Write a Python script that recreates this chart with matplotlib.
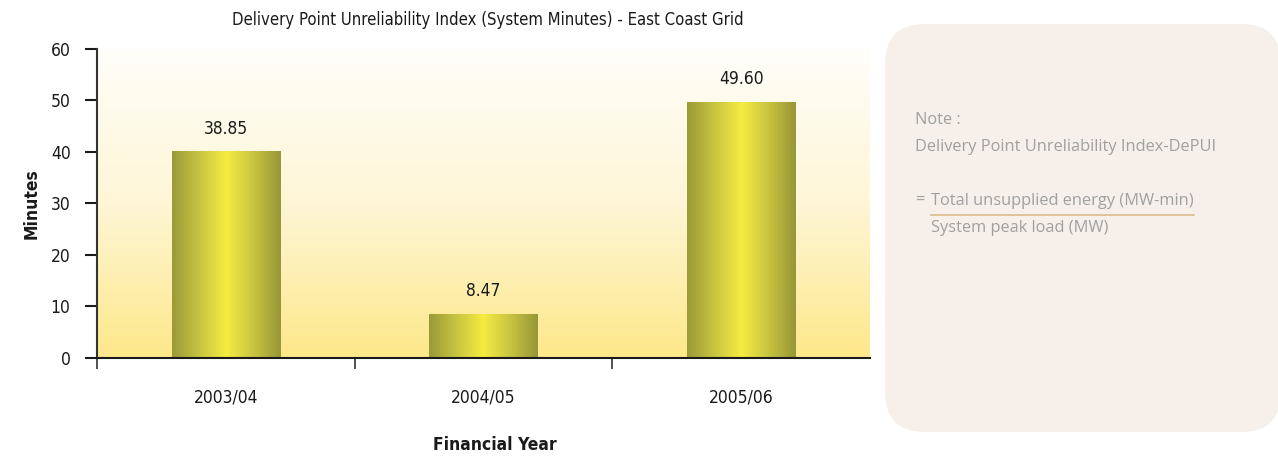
import numpy as np
import matplotlib
matplotlib.use("Agg")
import matplotlib.pyplot as plt
from matplotlib.patches import FancyBboxPatch
from matplotlib.colors import LinearSegmentedColormap

# ---- data ----
categories = ["2003/04", "2004/05", "2005/06"]
bar_heights = [40.0, 8.47, 49.60]          # bar heights as drawn
value_labels = ["38.85", "8.47", "49.60"]  # printed labels
y_ticks = [0, 10, 20, 30, 40, 50, 60]

title = "Delivery Point Unreliability Index (System Minutes) - East Coast Grid"
x_label = "Financial Year"
y_label = "Minutes"
note_lines = ["Note :", "Delivery Point Unreliability Index-DePUI"]
numerator = "Total unsupplied energy (MW-min)"
denominator = "System peak load (MW)"

plt.rcParams["font.family"] = ["DejaVu Sans"]
plt.rcParams["font.stretch"] = "condensed"

W, H = 1278, 459
fig = plt.figure(figsize=(W / 100, H / 100), dpi=100)
fig.patch.set_facecolor("white")

# overlay in pixel coordinates for the note panel
ov = fig.add_axes([0, 0, 1, 1], zorder=-1)
ov.set_xlim(0, W)
ov.set_ylim(H, 0)
ov.axis("off")
ov.add_patch(FancyBboxPatch((885, 24), 1281 - 885, 432 - 24,
                            boxstyle="round,pad=0,rounding_size=40",
                            facecolor="#f7f0ea", edgecolor="none"))
nfont = ["Open Sans", "DejaVu Sans"]
ncol = "#a0a0a0"
kw = dict(ha="left", va="center", fontsize=11.8, color=ncol, family=nfont,
          fontstretch="normal")
ov.text(915, 120, note_lines[0], **kw)
ov.text(915, 147, note_lines[1], **kw)
ov.text(915, 201, "=", **kw)
ov.text(931, 201, numerator, **kw)
ov.text(931, 228, denominator, **kw)
ov.plot([931, 1194], [214.5, 214.5], color="#d9bb8c", linewidth=1.2)

ax = fig.add_axes([97 / W, 1 - 358 / H, (870 - 97) / W, (358 - 48.5) / H])
ax.set_xlim(-0.5, len(categories) - 0.5)
ax.set_ylim(0, 60)

# background vertical gradient
bg_cmap = LinearSegmentedColormap.from_list("bg", ["#fde88a", "#fef6d6", "#fffefa"])
grad = np.linspace(0, 1, 256).reshape(-1, 1)
ax.imshow(grad, extent=[-0.5, len(categories) - 0.5, 0, 60], origin="lower",
          aspect="auto", cmap=bg_cmap, zorder=0)

# bars with horizontal gradient
bar_cmap = LinearSegmentedColormap.from_list(
    "bar", ["#9a9a38", "#c8c440", "#f5ec40", "#c8c440", "#979638"])
hgrad = np.linspace(0, 1, 256).reshape(1, -1)
x = np.arange(len(categories))
bars = ax.bar(x, bar_heights, width=0.42, zorder=2)
for b, lab in zip(bars, value_labels):
    bx, by, bw, bh = b.get_x(), b.get_y(), b.get_width(), b.get_height()
    b.set_visible(False)
    ax.imshow(hgrad, extent=[bx, bx + bw, by, by + bh], aspect="auto",
              cmap=bar_cmap, zorder=2)
    ax.annotate(lab, (bx + bw / 2, by + bh), xytext=(0, 10), textcoords="offset points",
                ha="center", va="bottom", fontsize=12.5, color="#1a1a1a")
ax.set_xlim(-0.5, len(categories) - 0.5)
ax.set_ylim(0, 60)

# spines
for s in ["top", "right"]:
    ax.spines[s].set_visible(False)
ax.spines["left"].set_color("#333333")
ax.spines["left"].set_linewidth(1.5)
ax.spines["bottom"].set_color("#1a1a1a")
ax.spines["bottom"].set_linewidth(1.5)
ax.spines["left"].set_zorder(5)
ax.spines["bottom"].set_zorder(5)

ax.set_yticks(y_ticks)
ax.tick_params(axis="y", direction="out", length=9, width=1.5, color="#1a1a1a",
               labelsize=12.5, pad=10, labelcolor="#1a1a1a")
ax.set_xticks(x)
ax.set_xticklabels(categories)
ax.tick_params(axis="x", which="major", length=0, labelsize=12.5, pad=22, labelcolor="#1a1a1a")
ax.set_xticks([-0.5, 0.5, 1.5], minor=True)
ax.tick_params(axis="x", which="minor", direction="out", length=8, width=1.2, color="#333333")

ax.set_ylabel(y_label, fontsize=12.5, fontweight="bold", labelpad=7, color="#1a1a1a")
fig.text(495 / W, 1 - 445 / H, x_label, ha="center", va="center", fontsize=12.5,
         fontweight="bold", color="#1a1a1a")
fig.text(488 / W, 1 - 20 / H, title, ha="center", va="center", fontsize=12, color="#1a1a1a")

fig.savefig("out.png", dpi=100)
